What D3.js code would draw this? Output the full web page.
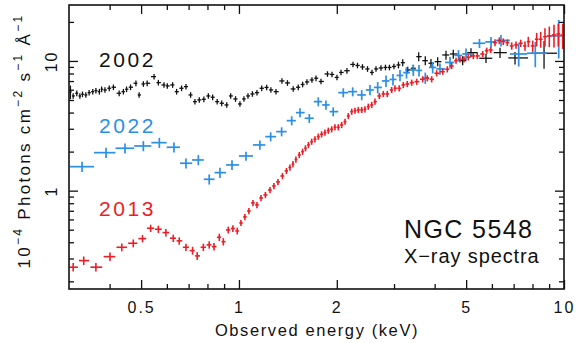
<!DOCTYPE html>
<html>
<head>
<meta charset="utf-8">
<script src="https://cdn.jsdelivr.net/npm/d3@7"></script>
<style>
  html, body { margin: 0; padding: 0; background: #fff; }
  svg { display: block; font-family: "Liberation Sans", Arial, Helvetica, sans-serif; }
</style>
</head>
<body>
<svg id="chart" width="576" height="343"></svg>
<script>
// ---- axis ranges and ticks ----
const energyDomain = [0.3, 10];        // keV
const fluxDomain = [0.1745, 27];       // 1e-4 photons cm^-2 s^-1 A^-1
const xMajorTicks = [0.5, 1, 2, 5, 10];
const xMajorLabels = ["0.5", "1", "2", "5", "10"];
const xMinorTicks = [0.4, 0.6, 0.7, 0.8, 0.9, 3, 4, 6, 7, 8, 9];
const yMajorTicks = [1, 10];
const yMajorLabels = ["1", "10"];
const yMinorTicks = [0.2, 0.3, 0.4, 0.5, 0.6, 0.7, 0.8, 0.9, 2, 3, 4, 5, 6, 7, 8, 9, 20];

// ---- 2013 spectrum (red) ----
const redEnergy = [0.309,0.333,0.363,0.401,0.436,0.473,0.505,0.535,0.565,0.596,
  0.628,0.655,0.687,0.720,0.744,0.777,0.810,0.838,0.870,0.895,
  0.927,0.958,0.988,1.014,1.043,1.073,1.104,1.136,1.169,1.206,
  1.246,1.281,1.318,1.361,1.400,1.435,1.466,1.497,1.533,1.570,
  1.602,1.636,1.674,1.713,1.754,1.796,1.839,1.883,1.929,1.974,
  2.021,2.070,2.120,2.170,2.223,2.275,2.329,2.386,2.442,2.500,
  2.561,2.621,2.703,2.780,2.860,2.950,3.020,3.113,3.203,3.295,
  3.400,3.523,3.675,3.797,3.917,4.058,4.235,4.375,4.514,4.654,
  4.786,4.923,5.076,5.260,5.411,5.621,5.783,5.950,6.134,6.324,
  6.506,6.693,6.905,7.119,7.360,7.586,7.766,8.012,8.241,8.478,
  8.740,9.011,9.316,9.605,9.908];
const redFlux = [0.257,0.289,0.257,0.310,0.366,0.393,0.427,0.513,0.504,0.475,
  0.430,0.410,0.366,0.345,0.314,0.366,0.382,0.370,0.437,0.404,
  0.498,0.511,0.489,0.564,0.627,0.697,0.804,0.776,0.878,0.927,
  1.012,1.087,1.167,1.298,1.419,1.510,1.606,1.740,1.885,1.998,
  2.123,2.251,2.387,2.490,2.609,2.722,2.801,2.902,2.975,3.082,
  3.082,3.211,3.404,3.766,4.066,4.139,4.191,4.191,4.243,4.443,
  4.579,4.857,5.373,5.568,5.568,5.975,6.158,6.158,6.531,6.648,
  6.803,6.924,7.226,7.356,7.226,8.036,8.267,8.630,9.151,10.05,
  10.31,10.31,10.68,10.93,10.93,11.32,12.01,12.16,13.84,14.34,
  14.09,13.84,13.05,13.29,13.69,13.05,14.09,13.05,14.70,14.70,
  15.39,15.59,15.87,16.15,15.87];
const redErr = [0.075,0.075,0.075,0.075,0.07,0.07,0.065,0.065,0.065,0.065,
  0.065,0.065,0.065,0.07,0.07,0.065,0.065,0.065,0.065,0.065,
  0.06,0.06,0.06,0.055,0.055,0.055,0.055,0.055,0.055,0.055,
  0.055,0.055,0.055,0.055,0.055,0.055,0.055,0.055,0.055,0.055,
  0.055,0.055,0.055,0.055,0.055,0.055,0.055,0.055,0.055,0.055,
  0.055,0.055,0.055,0.055,0.055,0.055,0.055,0.055,0.055,0.055,
  0.055,0.055,0.055,0.055,0.055,0.055,0.055,0.055,0.055,0.055,
  0.055,0.055,0.055,0.055,0.055,0.055,0.055,0.055,0.055,0.055,
  0.055,0.055,0.055,0.055,0.055,0.055,0.055,0.055,0.06,0.06,
  0.06,0.06,0.065,0.065,0.065,0.08,0.09,0.10,0.12,0.14,
  0.16,0.18,0.20,0.20,0.22];

// ---- 2022 spectrum (blue) ----
const blueEnergy = [0.329,0.390,0.446,0.508,0.569,0.631,0.687,0.750,0.810,0.874,
  0.952,1.051,1.160,1.252,1.353,1.453,1.541,1.646,1.754,1.852,
  1.950,2.094,2.238,2.386,2.530,2.672,2.834,2.978,3.129,3.277,
  3.438,3.580,3.743,3.945,4.153,4.461,4.736,4.994,5.495,5.963,
  6.401,7.255,8.160,9.632];
const blueFlux = [1.531,1.963,2.123,2.211,2.345,2.161,1.627,1.724,1.224,1.377,
  1.578,1.851,2.251,2.609,2.851,3.465,3.994,3.615,4.857,4.579,
  4.066,5.696,5.798,5.469,5.975,6.248,7.011,7.200,7.732,8.126,
  8.523,8.449,7.395,8.912,8.678,9.737,11.03,11.32,13.69,14.02,
  14.39,11.32,11.47,15.59];
const blueErr = [0.09,0.09,0.09,0.09,0.09,0.09,0.09,0.09,0.09,0.09,
  0.085,0.08,0.08,0.08,0.08,0.08,0.08,0.08,0.08,0.08,
  0.08,0.08,0.08,0.09,0.09,0.10,0.10,0.10,0.10,0.10,
  0.10,0.10,0.10,0.10,0.10,0.10,0.10,0.10,0.08,0.09,
  0.10,0.20,0.22,0.33];

// ---- 2002 spectrum (black) ----
const blackEnergy = [0.303,0.309,0.317,0.324,0.330,0.338,0.346,0.355,0.363,0.372,
  0.378,0.387,0.399,0.411,0.428,0.441,0.451,0.464,0.482,0.493,
  0.508,0.522,0.548,0.565,0.588,0.602,0.625,0.643,0.666,0.687,
  0.710,0.732,0.755,0.780,0.805,0.830,0.857,0.885,0.917,0.943,
  0.976,1.007,1.036,1.066,1.100,1.136,1.175,1.217,1.254,1.300,
  1.356,1.410,1.469,1.522,1.570,1.619,1.677,1.726,1.788,1.872,
  1.933,2.002,2.060,2.149,2.243,2.315,2.399,2.486,2.566,2.640,
  2.735,2.823,2.904,2.998,3.096,3.190,3.305,3.438,3.573,3.743,
  3.897,4.087,4.335,4.564,4.878,5.174,5.754,6.356,7.068,8.682];
const blackFlux = [5.768,5.373,5.636,5.373,5.537,5.469,5.696,5.798,5.902,5.798,
  6.050,5.975,6.158,6.271,5.636,5.798,6.050,6.271,6.730,5.469,
  6.648,6.730,7.568,6.803,6.531,6.418,6.531,5.798,6.158,6.339,
  5.469,4.857,5.004,5.067,5.373,5.250,4.857,4.720,4.579,5.373,
  5.094,4.661,5.094,5.373,5.568,5.696,6.158,6.248,5.975,5.798,
  7.011,6.767,6.083,6.271,6.590,6.887,7.136,7.356,6.948,7.937,
  7.867,7.460,8.154,8.404,9.397,9.232,8.989,8.678,8.154,8.678,
  8.831,8.912,8.912,9.071,9.315,9.703,8.523,8.784,10.79,10.05,
  9.600,9.876,11.12,11.32,10.05,11.59,10.49,11.59,10.55,11.47];
const blackErr = [0.12,0.05,0.05,0.05,0.05,0.05,0.05,0.05,0.05,0.05,
  0.05,0.05,0.05,0.05,0.05,0.05,0.05,0.05,0.05,0.05,
  0.05,0.05,0.05,0.05,0.05,0.05,0.05,0.05,0.05,0.05,
  0.05,0.05,0.05,0.05,0.05,0.05,0.05,0.05,0.05,0.05,
  0.05,0.05,0.05,0.05,0.05,0.05,0.05,0.05,0.05,0.05,
  0.05,0.05,0.05,0.05,0.05,0.05,0.05,0.05,0.05,0.05,
  0.05,0.05,0.05,0.05,0.05,0.05,0.05,0.05,0.05,0.05,
  0.05,0.05,0.05,0.05,0.06,0.06,0.06,0.06,0.08,0.08,
  0.08,0.08,0.08,0.08,0.08,0.08,0.08,0.09,0.11,0.24];

const seriesColors = { y2002: "#111111", y2022: "#2b8fe6", y2013: "#ee1d25" };

// ---- layout ----
const svg = d3.select("#chart");
const plotL = 69, plotR = 564, plotT = 5, plotB = 289;

const x = d3.scaleLog().domain(energyDomain).range([plotL, plotR]);
const y = d3.scaleLog().domain(fluxDomain).range([plotB, plotT]);

svg.append("defs").append("clipPath").attr("id", "plotClip")
  .append("rect").attr("x", plotL).attr("y", plotT)
  .attr("width", plotR - plotL).attr("height", plotB - plotT);

// Energy bin edges: a fraction of the (log) spacing to each neighbour
function binEdges(E, frac) {
  return E.map((e, i) => {
    const prev = i > 0 ? E[i - 1] : e * e / E[i + 1];
    const next = i < E.length - 1 ? E[i + 1] : e * e / E[i - 1];
    return [e * Math.pow(prev / e, frac), e * Math.pow(next / e, frac)];
  });
}

function drawSpectrum(E, F, err, frac, color, width) {
  const edges = binEdges(E, frac);
  const pts = E.map((e, i) => ({ e, f: F[i], lo: edges[i][0], hi: edges[i][1], err: err[i] }));
  const g = svg.append("g").attr("clip-path", "url(#plotClip)")
    .attr("stroke", color).attr("stroke-width", width).attr("fill", "none");
  g.selectAll("line.h").data(pts).join("line").attr("class", "h")
    .attr("x1", d => x(d.lo)).attr("x2", d => x(d.hi))
    .attr("y1", d => y(d.f)).attr("y2", d => y(d.f));
  g.selectAll("line.v").data(pts).join("line").attr("class", "v")
    .attr("x1", d => x(d.e)).attr("x2", d => x(d.e))
    .attr("y1", d => y(d.f * (1 - d.err))).attr("y2", d => y(d.f * (1 + d.err)));
}

drawSpectrum(blackEnergy, blackFlux, blackErr, 0.45, seriesColors.y2002, 1.3);
drawSpectrum(blueEnergy, blueFlux, blueErr, 0.5, seriesColors.y2022, 1.7);
drawSpectrum(redEnergy, redFlux, redErr, 0.45, seriesColors.y2013, 1.6);

// ---- axes (ticks pointing inward on all four sides) ----
const axisColor = "#111";
function styleAxis(g) {
  g.select(".domain").remove();
  g.selectAll("line").attr("stroke", axisColor).attr("stroke-width", 1.3);
}
const fmtX = v => xMajorLabels[xMajorTicks.indexOf(v)];
const fmtY = v => yMajorLabels[yMajorTicks.indexOf(v)];

// bottom
svg.append("g").attr("transform", `translate(0,${plotB})`)
  .call(d3.axisBottom(x).tickValues(xMinorTicks).tickSize(-5).tickFormat(""))
  .call(styleAxis);
const bx = svg.append("g").attr("transform", `translate(0,${plotB})`)
  .call(d3.axisBottom(x).tickValues(xMajorTicks).tickSize(-9).tickFormat(fmtX))
  .call(styleAxis);
bx.selectAll("text").attr("y", 23.5).attr("dy", null)
  .attr("fill", axisColor).attr("font-size", 16).attr("font-family", null)
  .style("letter-spacing", "2px");

// top
svg.append("g").attr("transform", `translate(0,${plotT})`)
  .call(d3.axisTop(x).tickValues(xMinorTicks).tickSize(-5).tickFormat(""))
  .call(styleAxis);
svg.append("g").attr("transform", `translate(0,${plotT})`)
  .call(d3.axisTop(x).tickValues(xMajorTicks).tickSize(-9).tickFormat(""))
  .call(styleAxis);

// left
svg.append("g").attr("transform", `translate(${plotL},0)`)
  .call(d3.axisLeft(y).tickValues(yMinorTicks).tickSize(-5).tickFormat(""))
  .call(styleAxis);
const ly = svg.append("g").attr("transform", `translate(${plotL},0)`)
  .call(d3.axisLeft(y).tickValues(yMajorTicks).tickSize(-9).tickFormat(fmtY))
  .call(styleAxis);
ly.selectAll("text").attr("x", null).attr("dy", null)
  .attr("transform", "translate(-12,0) rotate(-90)")
  .attr("text-anchor", "middle")
  .attr("fill", axisColor).attr("font-size", 16).attr("font-family", null)
  .style("letter-spacing", "2px");

// right
svg.append("g").attr("transform", `translate(${plotR},0)`)
  .call(d3.axisRight(y).tickValues(yMinorTicks).tickSize(-5).tickFormat(""))
  .call(styleAxis);
svg.append("g").attr("transform", `translate(${plotR},0)`)
  .call(d3.axisRight(y).tickValues(yMajorTicks).tickSize(-9).tickFormat(""))
  .call(styleAxis);

// frame
svg.append("rect").attr("x", plotL).attr("y", plotT)
  .attr("width", plotR - plotL).attr("height", plotB - plotT)
  .attr("fill", "none").attr("stroke", axisColor).attr("stroke-width", 1.6);

// ---- axis titles ----
svg.append("text").attr("x", (plotL + plotR) / 2 + 0.5).attr("y", 336)
  .attr("text-anchor", "middle").attr("font-size", 16.5).attr("fill", axisColor)
  .style("letter-spacing", "1.6px")
  .text("Observed energy (keV)");

const yTitle = svg.append("text")
  .attr("transform", "translate(29.5,141) rotate(-90)")
  .attr("text-anchor", "middle").attr("font-size", 17).attr("fill", axisColor)
  .style("letter-spacing", "2.3px");
const yTitleParts = [
  ["10", false], ["\u22124", true], [" Photons cm", false], ["\u22122", true],
  [" s", false], ["\u22121", true], [" \u00C5", false], ["\u22121", true]
];
let raised = false;
yTitleParts.forEach(([t, sup]) => {
  const ts = yTitle.append("tspan").text(t);
  if (sup) { ts.attr("dy", -8).attr("font-size", 12); raised = true; }
  else if (raised) { ts.attr("dy", 8); raised = false; }
});

// ---- series labels ----
const labelData = [
  { text: "2002", color: seriesColors.y2002, yb: 66.7 },
  { text: "2022", color: seriesColors.y2022, yb: 132.7 },
  { text: "2013", color: seriesColors.y2013, yb: 215.7 }
];
svg.selectAll("text.series").data(labelData).join("text").attr("class", "series")
  .attr("x", 99).attr("y", d => d.yb).attr("fill", d => d.color)
  .attr("font-size", 21).style("letter-spacing", "2.6px")
  .text(d => d.text);

// ---- annotation ----
svg.append("text").attr("x", 404).attr("y", 238).attr("fill", axisColor)
  .attr("font-size", 25).style("letter-spacing", "1.4px").text("NGC 5548");
svg.append("text").attr("x", 404).attr("y", 262.5).attr("fill", axisColor)
  .attr("font-size", 20).style("letter-spacing", "0.9px").text("X\u2212ray spectra");
</script>
</body>
</html>
